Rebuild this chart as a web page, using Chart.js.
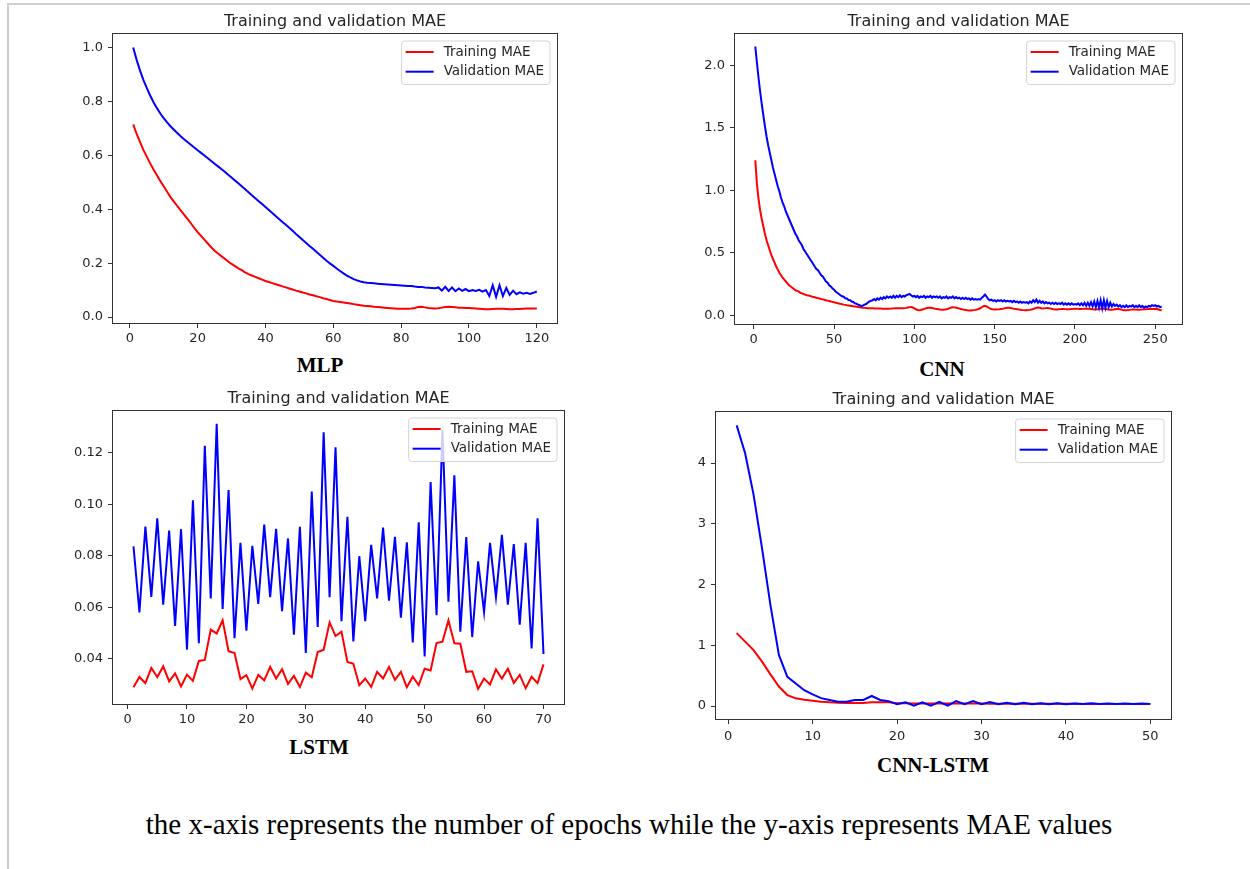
<!DOCTYPE html>
<html>
<head>
<meta charset="utf-8">
<script src="https://cdn.jsdelivr.net/npm/chart.js@4.4.1/dist/chart.umd.min.js"></script>
<style>
  html, body { margin: 0; padding: 0; background: #fff; }
  body { width: 1250px; height: 869px; position: relative; overflow: hidden; }
  .frame { position: absolute; left: 7px; top: 3px; right: 0; bottom: 0;
           border-top: 2px solid #cdcdcd; border-left: 2px solid #cdcdcd; }
  canvas { position: absolute; }
  .model { position: absolute; font: bold 21px "Liberation Serif", "Times New Roman", serif;
           line-height: 21px; transform: translateX(-50%); white-space: nowrap; color: #000; }
  .caption { position: absolute; left: 629px; top: 810px; font: 29px "Liberation Serif", "Times New Roman", serif;
             line-height: 29px; transform: translateX(-50%); white-space: nowrap; color: #000; }
</style>
</head>
<body>
<div class="frame"></div>
<div class="model" style="left:320px; top:355px">MLP</div>
<div class="model" style="left:942px; top:359px">CNN</div>
<div class="model" style="left:319px; top:737px">LSTM</div>
<div class="model" style="left:933px; top:755px">CNN-LSTM</div>
<div class="caption">the x-axis represents the number of epochs while the y-axis represents MAE values</div>

<script>
// MAE per epoch
const mlpTrain = [0.715,0.68,0.65,0.62,0.595,0.57,0.547,0.526,0.505,0.485,
  0.465,0.445,0.428,0.412,0.396,0.38,0.364,0.348,0.331,0.315,
  0.301,0.287,0.273,0.259,0.246,0.236,0.226,0.216,0.206,0.197,
  0.189,0.181,0.174,0.166,0.159,0.154,0.149,0.144,0.139,0.134,
  0.13,0.126,0.122,0.118,0.114,0.11,0.106,0.102,0.098,0.095,
  0.091,0.088,0.084,0.081,0.077,0.074,0.07,0.067,0.063,0.06,
  0.058,0.056,0.054,0.052,0.05,0.048,0.046,0.044,0.042,0.041,
  0.04,0.038,0.037,0.036,0.035,0.034,0.033,0.032,0.031,0.031,
  0.031,0.031,0.032,0.034,0.037,0.038,0.036,0.034,0.033,0.032,
  0.033,0.035,0.037,0.038,0.037,0.036,0.035,0.035,0.034,0.034,
  0.033,0.032,0.031,0.03,0.029,0.029,0.03,0.031,0.031,0.031,
  0.03,0.029,0.029,0.03,0.03,0.031,0.032,0.032,0.032,0.032];
const mlpVal = [1.0,0.955,0.915,0.88,0.85,0.822,0.797,0.775,0.755,0.738,
  0.722,0.708,0.695,0.683,0.671,0.66,0.649,0.639,0.629,0.619,
  0.609,0.599,0.589,0.579,0.569,0.559,0.549,0.539,0.528,0.518,
  0.507,0.496,0.485,0.474,0.463,0.452,0.441,0.43,0.419,0.408,
  0.397,0.386,0.375,0.364,0.353,0.342,0.331,0.32,0.308,0.297,
  0.286,0.275,0.264,0.253,0.242,0.231,0.22,0.209,0.199,0.19,
  0.18,0.171,0.162,0.154,0.147,0.141,0.136,0.132,0.129,0.127,
  0.126,0.125,0.124,0.123,0.122,0.121,0.12,0.119,0.118,0.117,
  0.116,0.115,0.115,0.113,0.112,0.112,0.11,0.109,0.108,0.107,
  0.11,0.098,0.112,0.097,0.11,0.096,0.106,0.097,0.104,0.096,
  0.1,0.097,0.101,0.094,0.1,0.078,0.118,0.075,0.118,0.078,
  0.108,0.082,0.098,0.085,0.092,0.087,0.09,0.086,0.09,0.095];

const cnnTrain = [1.24,1.05,0.93,0.84,0.77,0.71,0.65,0.60,0.56,0.52,
  0.48,0.45,0.42,0.39,0.365,0.34,0.32,0.30,0.285,0.27,
  0.255,0.24,0.23,0.22,0.21,0.20,0.195,0.19,0.18,0.175,
  0.17,0.165,0.16,0.158,0.155,0.15,0.147,0.144,0.14,0.137,
  0.134,0.13,0.127,0.124,0.12,0.117,0.114,0.11,0.107,0.104,
  0.10,0.097,0.094,0.091,0.088,0.085,0.083,0.08,0.078,0.076,
  0.074,0.072,0.07,0.068,0.066,0.064,0.062,0.06,0.059,0.058,
  0.057,0.057,0.056,0.056,0.055,0.055,0.055,0.054,0.054,0.053,
  0.053,0.053,0.052,0.052,0.053,0.054,0.055,0.056,0.057,0.057,
  0.057,0.056,0.056,0.057,0.059,0.062,0.065,0.066,0.062,0.055,
  0.048,0.042,0.04,0.042,0.046,0.05,0.055,0.058,0.06,0.06,
  0.058,0.055,0.052,0.05,0.048,0.046,0.045,0.045,0.046,0.048,
  0.052,0.057,0.062,0.064,0.063,0.06,0.057,0.054,0.05,0.047,
  0.044,0.042,0.04,0.039,0.039,0.04,0.041,0.043,0.046,0.05,
  0.056,0.064,0.072,0.075,0.07,0.062,0.055,0.05,0.047,0.046,
  0.046,0.047,0.048,0.05,0.052,0.055,0.058,0.06,0.06,0.058,
  0.055,0.052,0.05,0.048,0.046,0.044,0.042,0.041,0.04,0.04,
  0.041,0.043,0.046,0.05,0.055,0.06,0.062,0.06,0.056,0.054,
  0.055,0.057,0.058,0.056,0.053,0.05,0.048,0.047,0.047,0.048,
  0.049,0.05,0.05,0.049,0.048,0.048,0.049,0.05,0.051,0.052,
  0.052,0.051,0.05,0.05,0.051,0.052,0.053,0.053,0.052,0.05,
  0.048,0.047,0.047,0.048,0.05,0.052,0.053,0.052,0.05,0.048,
  0.046,0.045,0.045,0.046,0.048,0.05,0.05,0.048,0.045,0.042,
  0.04,0.04,0.041,0.043,0.045,0.046,0.046,0.045,0.044,0.044,
  0.045,0.046,0.047,0.048,0.049,0.05,0.05,0.05,0.05,0.051,
  0.05,0.046,0.042,0.04];
const cnnVal = [2.15,2.02,1.90,1.79,1.69,1.60,1.51,1.43,1.36,1.30,
  1.24,1.18,1.13,1.08,1.03,0.99,0.94,0.90,0.87,0.83,
  0.80,0.77,0.74,0.71,0.68,0.65,0.63,0.60,0.58,0.56,
  0.53,0.51,0.49,0.47,0.45,0.43,0.41,0.39,0.37,0.36,
  0.34,0.32,0.31,0.29,0.27,0.26,0.24,0.23,0.215,0.205,
  0.19,0.18,0.17,0.16,0.152,0.148,0.136,0.134,0.122,0.12,
  0.11,0.106,0.096,0.092,0.085,0.08,0.072,0.078,0.085,0.09,
  0.10,0.11,0.115,0.12,0.13,0.12,0.135,0.125,0.14,0.13,
  0.145,0.135,0.15,0.14,0.15,0.14,0.155,0.14,0.155,0.145,
  0.16,0.145,0.155,0.15,0.16,0.165,0.17,0.16,0.15,0.155,
  0.145,0.155,0.14,0.15,0.145,0.155,0.14,0.15,0.145,0.155,
  0.14,0.15,0.145,0.15,0.14,0.15,0.135,0.145,0.14,0.15,
  0.135,0.145,0.14,0.15,0.135,0.145,0.135,0.14,0.13,0.14,
  0.13,0.14,0.13,0.135,0.125,0.135,0.125,0.13,0.125,0.13,
  0.125,0.14,0.15,0.165,0.15,0.13,0.12,0.125,0.115,0.12,
  0.11,0.12,0.115,0.12,0.11,0.12,0.11,0.115,0.11,0.115,
  0.105,0.115,0.105,0.11,0.10,0.11,0.10,0.105,0.10,0.105,
  0.095,0.11,0.10,0.12,0.105,0.125,0.10,0.115,0.10,0.11,
  0.095,0.105,0.095,0.10,0.09,0.10,0.09,0.10,0.09,0.095,
  0.09,0.10,0.085,0.095,0.085,0.095,0.085,0.095,0.085,0.09,
  0.085,0.095,0.08,0.095,0.08,0.10,0.075,0.10,0.075,0.105,
  0.07,0.11,0.065,0.115,0.06,0.12,0.055,0.12,0.06,0.115,
  0.065,0.10,0.07,0.09,0.075,0.085,0.07,0.08,0.065,0.075,
  0.065,0.08,0.065,0.075,0.07,0.08,0.065,0.075,0.065,0.08,
  0.065,0.075,0.06,0.07,0.065,0.075,0.07,0.08,0.075,0.08,
  0.07,0.075,0.065,0.07];

const lstmTrain = [0.0289,0.0329,0.0305,0.0364,0.0329,0.037,0.0312,0.0343,0.0292,0.0338,
  0.0314,0.0391,0.0395,0.0513,0.0498,0.0549,0.0429,0.0422,0.0321,0.0336,
  0.0284,0.0337,0.0316,0.0368,0.0323,0.0359,0.0302,0.0333,0.029,0.0346,
  0.0328,0.0426,0.0435,0.0541,0.0488,0.0505,0.0387,0.038,0.0297,0.0323,
  0.029,0.0349,0.0323,0.0368,0.0318,0.0349,0.0289,0.033,0.0297,0.0361,
  0.0354,0.0461,0.0466,0.0549,0.046,0.0458,0.0349,0.0351,0.0283,0.0323,
  0.03,0.0358,0.0323,0.0361,0.0306,0.0337,0.0285,0.033,0.0305,0.0378];
const lstmVal = [0.0836,0.058,0.0913,0.064,0.0945,0.061,0.0898,0.0527,0.0903,0.0435,
  0.1015,0.046,0.1227,0.0634,0.1312,0.0593,0.1055,0.048,0.085,0.0509,
  0.0838,0.0613,0.0921,0.0639,0.0904,0.0585,0.0867,0.0493,0.0912,0.0422,
  0.1049,0.0523,0.1279,0.0639,0.1221,0.0546,0.0951,0.0467,0.0798,0.0546,
  0.0842,0.0634,0.0909,0.0625,0.0873,0.0559,0.0852,0.0463,0.093,0.0409,
  0.1086,0.0569,0.1288,0.0621,0.1112,0.0505,0.0872,0.0484,0.0778,0.0581,
  0.085,0.0639,0.0881,0.061,0.0845,0.0532,0.085,0.044,0.0945,0.0418];

const cnnLstmTrain = [1.2,1.06,0.92,0.73,0.52,0.32,0.18,0.126,0.104,0.088,
  0.071,0.06,0.055,0.05,0.05,0.05,0.06,0.06,0.06,0.045,
  0.044,0.043,0.043,0.042,0.042,0.041,0.041,0.04,0.04,0.04,
  0.039,0.039,0.038,0.038,0.037,0.037,0.036,0.036,0.035,0.035,
  0.035,0.034,0.034,0.033,0.033,0.033,0.032,0.032,0.031,0.031];
const cnnLstmVal = [4.62,4.16,3.48,2.6,1.66,0.84,0.48,0.37,0.26,0.19,
  0.13,0.10,0.07,0.07,0.10,0.10,0.165,0.10,0.08,0.03,
  0.06,0.005,0.06,0.005,0.07,0.005,0.08,0.03,0.08,0.03,
  0.065,0.03,0.055,0.03,0.055,0.03,0.045,0.03,0.045,0.03,
  0.04,0.035,0.045,0.035,0.04,0.035,0.04,0.035,0.04,0.035];

const seriesLabels = ['Training MAE', 'Validation MAE'];
const seriesColors = ['#ff0000', '#0000ff'];
const chartTitle = 'Training and validation MAE';

const Y_W = 50;   // room for y tick labels
const TITLE_H = 22;

Chart.defaults.font.family = '"DejaVu Sans", sans-serif';
Chart.defaults.color = '#262626';

// spines all round + matplotlib-style legend in the upper right
const axesBox = {
  id: 'axesBox',
  afterDatasetsDraw(chart) {
    const { ctx, chartArea: a } = chart;
    ctx.save();
    ctx.strokeStyle = '#333';
    ctx.lineWidth = 1;
    ctx.strokeRect(Math.round(a.left) - 0.5, Math.round(a.top) - 0.5,
                   Math.round(a.width) + 1, Math.round(a.height) + 1);

    const fs = 13.5;
    ctx.font = fs + 'px "DejaVu Sans"';
    const sets = chart.data.datasets;
    const tw = Math.max(...sets.map(d => ctx.measureText(d.label).width));
    const w = 4 + 28 + 10 + tw + 6;
    const h = 43.5;
    const x0 = a.right - 7 - w, y0 = a.top + 7;
    ctx.beginPath();
    ctx.roundRect(x0, y0, w, h, 3);
    ctx.fillStyle = 'rgba(255,255,255,0.8)';
    ctx.fill();
    ctx.strokeStyle = '#d4d4d4';
    ctx.stroke();
    ctx.textBaseline = 'middle';
    sets.forEach((d, i) => {
      const cy = y0 + 11 + i * 19.7;
      ctx.beginPath();
      ctx.moveTo(x0 + 4, cy);
      ctx.lineTo(x0 + 32, cy);
      ctx.strokeStyle = d.borderColor;
      ctx.lineWidth = 2;
      ctx.stroke();
      ctx.fillStyle = '#262626';
      ctx.fillText(d.label, x0 + 42, cy);
    });
    ctx.restore();
  }
};

function makePanel(p) {
  const canvas = document.createElement('canvas');
  const w = (p.right - p.left) + 2 * Y_W;
  const h = TITLE_H + (p.bottom - p.top) + p.xH;
  canvas.width = w;
  canvas.height = h;
  canvas.style.left = (p.left - Y_W) + 'px';
  canvas.style.top = (p.top - TITLE_H) + 'px';
  document.body.appendChild(canvas);

  const epochs = p.train.map((_, i) => i + 1);
  const tickGrid = { drawOnChartArea: false, drawTicks: true, tickLength: 5, color: '#333' };

  new Chart(canvas, {
    type: 'line',
    data: {
      labels: epochs,
      datasets: [
        { label: seriesLabels[0], data: p.train, borderColor: seriesColors[0], borderWidth: 2,
          pointRadius: 0, tension: 0, order: 1 },
        { label: seriesLabels[1], data: p.val, borderColor: seriesColors[1], borderWidth: 2,
          pointRadius: 0, tension: 0, order: 0 }
      ]
    },
    options: {
      responsive: false,
      animation: false,
      devicePixelRatio: 1,
      layout: { padding: { left: 0, right: Y_W, top: 0, bottom: 0 } },
      plugins: {
        legend: { display: false },
        tooltip: { enabled: false },
        title: {
          display: true, text: chartTitle, color: '#262626', fullSize: false,
          font: { size: 16, weight: 'normal', lineHeight: '19px' },
          padding: { top: 0, bottom: 3 }
        }
      },
      scales: {
        x: {
          type: 'linear', min: p.xMin, max: p.xMax,
          afterFit: s => { s.height = p.xH; },
          border: { display: false },
          grid: tickGrid,
          ticks: { stepSize: p.xStep, includeBounds: false, padding: p.xPad, maxRotation: 0,
                   autoSkip: false, font: { size: 13 }, callback: v => String(Math.round(v)) }
        },
        y: {
          min: p.yMin, max: p.yMax,
          afterFit: s => { s.width = Y_W; },
          border: { display: false },
          grid: tickGrid,
          ticks: { stepSize: p.yStep, includeBounds: false, padding: 5, autoSkip: false,
                   font: { size: 13 }, callback: v => v.toFixed(p.yDigits) }
        }
      }
    },
    plugins: [axesBox]
  });
}

makePanel({ left: 113, right: 557, top: 34, bottom: 323, xH: 30, xPad: 3,
  train: mlpTrain, val: mlpVal,
  xMin: -4.95, xMax: 125.95, xStep: 20, yMin: -0.022, yMax: 1.05, yStep: 0.2, yDigits: 1 });
makePanel({ left: 735, right: 1182, top: 34, bottom: 324, xH: 30, xPad: 3,
  train: cnnTrain, val: cnnVal,
  xMin: -11.65, xMax: 266.65, xStep: 50, yMin: -0.07, yMax: 2.25, yStep: 0.5, yDigits: 1 });
makePanel({ left: 113, right: 564, top: 411, bottom: 704, xH: 30, xPad: 3,
  train: lstmTrain, val: lstmVal,
  xMin: -2.45, xMax: 73.45, xStep: 10, yMin: 0.0224, yMax: 0.1362, yStep: 0.02, yDigits: 2 });
makePanel({ left: 716, right: 1171, top: 412, bottom: 719, xH: 30, xPad: 5,
  train: cnnLstmTrain, val: cnnLstmVal,
  xMin: -1.45, xMax: 52.45, xStep: 10, yMin: -0.214, yMax: 4.84, yStep: 1, yDigits: 0 });
</script>
</body>
</html>
